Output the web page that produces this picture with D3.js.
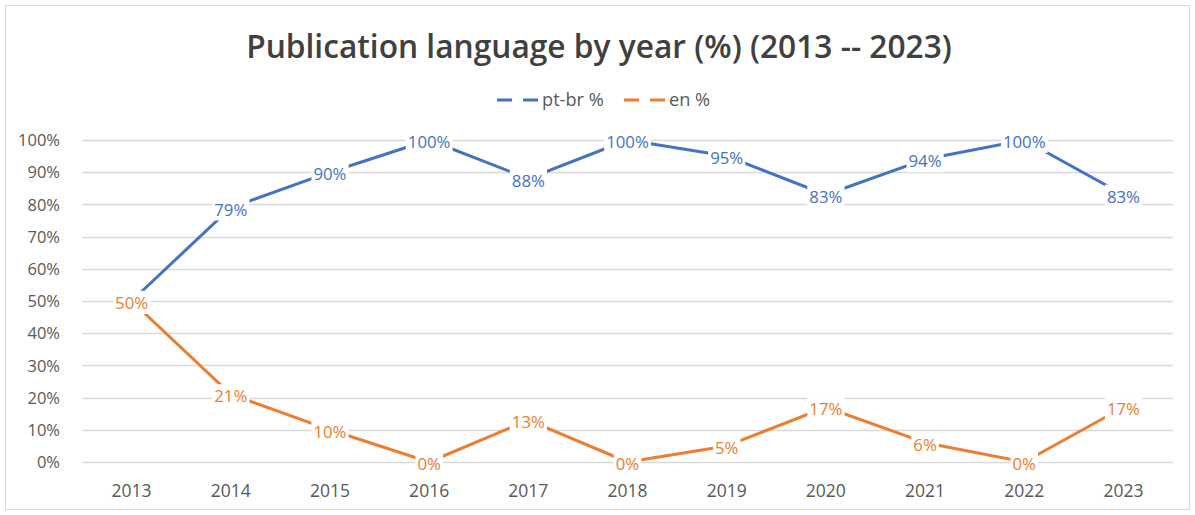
<!DOCTYPE html>
<html>
<head>
<meta charset="utf-8">
<script src="https://cdn.jsdelivr.net/npm/d3@7"></script>
<style>
  body { margin: 0; background: #fff; }
  svg { font-family: "Open Sans", "Noto Sans", sans-serif; }
</style>
</head>
<body>
<svg id="chart"></svg>
<script>
const years = ["2013", "2014", "2015", "2016", "2017", "2018", "2019", "2020", "2021", "2022", "2023"];
const ptBr = [50, 79, 90, 100, 88, 100, 95, 83, 94, 100, 83];
const en = [50, 21, 10, 0, 13, 0, 5, 17, 6, 0, 17];
const yTicks = [0, 10, 20, 30, 40, 50, 60, 70, 80, 90, 100];

const width = 1195;
const height = 515;
const margin = { top: 140, right: 22, bottom: 53, left: 82 };

const series = [
    { name: "pt-br %", values: ptBr, color: "#4472C4" },
    { name: "en %", values: en, color: "#ED7D31" }
];

const svg = d3.select("#chart")
    .attr("width", width)
    .attr("height", height);

// outer frame
svg.append("rect")
    .attr("x", 5.5).attr("y", 5.5)
    .attr("width", width - 11).attr("height", height - 11)
    .attr("fill", "#fff")
    .attr("stroke", "#d9d9d9");

svg.append("text")
    .attr("x", 599)
    .attr("y", 58)
    .attr("text-anchor", "middle")
    .attr("font-size", 31.7)
    .attr("font-weight", 600)
    .attr("fill", "#404040")
    .text("Publication language by year (%) (2013 -- 2023)");

const xScale = d3.scaleBand()
    .domain(years)
    .range([margin.left, width - margin.right]);

const yScale = d3.scaleLinear()
    .domain([0, 100])
    .range([height - margin.bottom, margin.top]);

// gridlines
svg.append("g")
    .selectAll("line")
    .data(yTicks)
    .enter()
    .append("line")
    .attr("x1", margin.left)
    .attr("x2", width - margin.right)
    .attr("y1", d => Math.round(yScale(d)) + 0.5)
    .attr("y2", d => Math.round(yScale(d)) + 0.5)
    .attr("stroke", "#d9d9d9")
    .attr("stroke-width", 1.3);

// y axis
const yAxis = svg.append("g")
    .attr("transform", `translate(${margin.left - 19}, 0)`)
    .call(d3.axisLeft(yScale).tickValues(yTicks).tickFormat(d => d + "%").tickSize(0));
yAxis.select(".domain").remove();
yAxis.selectAll("text")
    .attr("font-size", 16.5)
    .attr("font-family", "\"Open Sans\", sans-serif")
    .attr("fill", "#595959")
    .attr("dy", "0.35em");

// x axis
const xAxis = svg.append("g")
    .attr("transform", `translate(0, ${height - margin.bottom})`)
    .call(d3.axisBottom(xScale).tickSize(0).tickPadding(23));
xAxis.select(".domain").remove();
xAxis.selectAll("text")
    .attr("font-size", 17.5)
    .attr("font-family", "\"Open Sans\", sans-serif")
    .attr("fill", "#595959");

const cx = d => xScale(d) + xScale.bandwidth() / 2;

const line = d3.line()
    .x((d, i) => cx(years[i]))
    .y(d => yScale(d));

series.forEach(s => {
    svg.append("path")
        .datum(s.values)
        .attr("fill", "none")
        .attr("stroke", s.color)
        .attr("stroke-width", 3)
        .attr("stroke-linejoin", "round")
        .attr("d", line);
});

// data labels with white boxes
series.forEach(s => {
    const g = svg.append("g");
    const lbl = g.selectAll("g")
        .data(s.values)
        .enter()
        .append("g")
        .attr("transform", (d, i) => `translate(${cx(years[i])}, ${yScale(d) + 2})`);
    lbl.append("text")
        .attr("text-anchor", "middle")
        .attr("dy", "0.35em")
        .attr("font-size", 16.8)
        .attr("fill", s.color)
        .text(d => d + "%");
    lbl.each(function() {
        const t = d3.select(this).select("text");
        const b = t.node().getBBox();
        d3.select(this).insert("rect", "text")
            .attr("x", b.x - 2)
            .attr("y", b.y)
            .attr("width", b.width + 4)
            .attr("height", b.height)
            .attr("fill", "#fff");
    });
});

// legend
const legendItems = [
    { x: 497, s: series[0] },
    { x: 624, s: series[1] }
];
legendItems.forEach(item => {
    const g = svg.append("g").attr("transform", `translate(${item.x}, 100)`);
    g.append("line")
        .attr("x1", 0).attr("x2", 42)
        .attr("y1", 0).attr("y2", 0)
        .attr("stroke", item.s.color)
        .attr("stroke-width", 3)
        .attr("stroke-dasharray", "15,11");
    g.append("text")
        .attr("x", 45)
        .attr("dy", "0.35em")
        .attr("font-size", 18.2)
        .attr("fill", "#595959")
        .text(item.s.name);
});
</script>
</body>
</html>
